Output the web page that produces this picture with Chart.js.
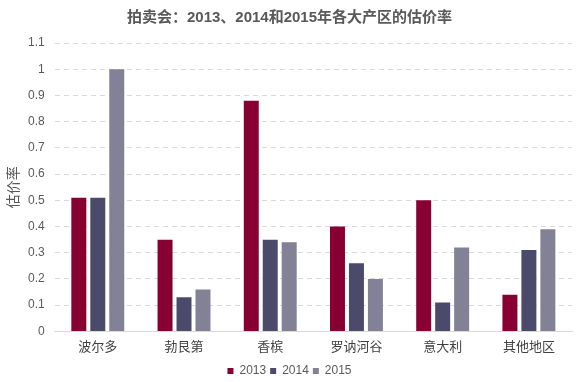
<!DOCTYPE html>
<html>
<head>
<meta charset="utf-8">
<script src="https://cdn.jsdelivr.net/npm/chart.js@4/dist/chart.umd.min.js"></script>
<style>
html,body{margin:0;padding:0;background:#fff;}
#wrap{width:584px;height:382px;}
</style>
</head>
<body>
<div id="wrap"><canvas id="c" width="584" height="382"></canvas></div>
<script>
const categories = ['波尔多', '勃艮第', '香槟', '罗讷河谷', '意大利', '其他地区'];
const seriesNames = ['2013', '2014', '2015'];
const values2013 = [0.51, 0.35, 0.88, 0.40, 0.50, 0.14];
const values2014 = [0.51, 0.13, 0.35, 0.26, 0.11, 0.31];
const values2015 = [1.00, 0.16, 0.34, 0.20, 0.32, 0.39];
const yTicks = [0, 0.1, 0.2, 0.3, 0.4, 0.5, 0.6, 0.7, 0.8, 0.9, 1, 1.1];

const colors = ['#880032', '#4b4a6a', '#838196'];
const FONT = '"Liberation Sans", "Noto Sans CJK SC", sans-serif';

new Chart(document.getElementById('c'), {
  type: 'bar',
  data: {
    labels: categories,
    datasets: [values2013, values2014, values2015].map((v, i) => ({
      label: seriesNames[i],
      data: v,
      backgroundColor: colors[i],
      borderWidth: 0,
      categoryPercentage: 0.66,
      barPercentage: 0.79
    }))
  },
  options: {
    responsive: false,
    animation: false,
    devicePixelRatio: 1,
    layout: { padding: { left: 7, right: 12, top: 0, bottom: -5 } },
    plugins: {
      title: {
        display: true,
        text: '拍卖会：2013、2014和2015年各大产区的估价率',
        color: '#595959',
        font: { family: FONT, size: 15, weight: 'bold' },
        padding: { top: 9, bottom: 16 }
      },
      legend: {
        position: 'bottom',
        labels: {
          boxWidth: 6, boxHeight: 6,
          padding: 4,
          color: '#595959',
          font: { family: FONT, size: 12 }
        }
      },
      tooltip: { enabled: false }
    },
    scales: {
      x: {
        grid: { display: false },
        border: { display: true, color: '#d9d9d9' },
        ticks: { color: '#404040', font: { family: FONT, size: 13 }, padding: 0 },
        afterFit: (scale) => { scale.height += 6; }
      },
      y: {
        min: 0, max: 1.1,
        afterBuildTicks: (axis) => { axis.ticks = yTicks.map(v => ({ value: v })); },
        ticks: {
          color: '#595959',
          font: { family: FONT, size: 12 },
          padding: 10,
          callback: (v) => String(parseFloat(v.toFixed(1)))
        },
        grid: { color: '#d9d9d9', drawTicks: false },
        border: { display: false, dash: [5, 4] },
        title: {
          display: true,
          text: '估价率',
          color: '#595959',
          font: { family: FONT, size: 14, lineHeight: 1 },
          padding: { top: 0, bottom: -3 }
        }
      }
    }
  }
});
</script>
</body>
</html>
